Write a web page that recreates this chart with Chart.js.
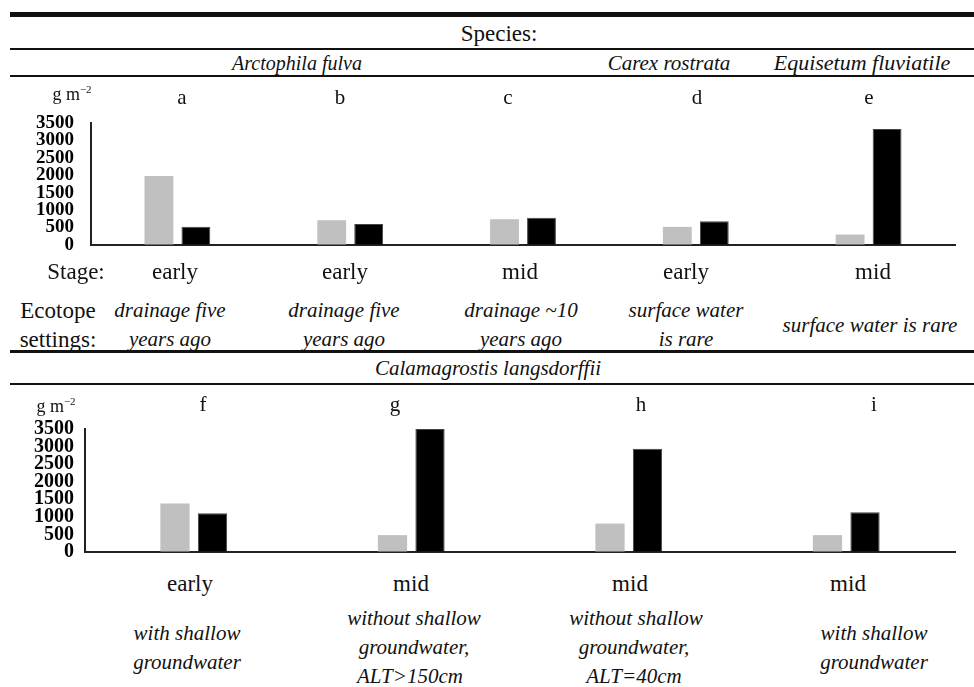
<!DOCTYPE html>
<html>
<head>
<meta charset="utf-8">
<script src="https://cdn.jsdelivr.net/npm/chart.js@4.4.1/dist/chart.umd.min.js"></script>
<style>
  html, body { margin: 0; padding: 0; background: #fff; }
  #page { position: relative; width: 974px; height: 687px; overflow: hidden; font-family: "Liberation Serif", "Times New Roman", serif; color: #111; }
  .t { position: absolute; transform: translate(-50%, -50%); white-space: nowrap; line-height: 1; }
  .i { font-style: italic; }
  .rule { position: absolute; left: 10px; right: 0; background: #111; }
  .box { position: absolute; }
</style>
</head>
<body>
<div id="page">
  <div class="rule" style="top:12px;height:5px"></div>
  <div class="rule" style="top:48px;height:2px"></div>
  <div class="rule" style="top:75px;height:2px"></div>
  <div class="rule" style="top:350px;height:3px"></div>
  <div class="rule" style="top:383px;height:2px"></div>

  <div class="box" style="left:0;top:100px;width:974px;height:160px"><canvas id="topChart" width="974" height="160"></canvas></div>
  <div class="box" style="left:0;top:415px;width:974px;height:150px"><canvas id="bottomChart" width="974" height="150"></canvas></div>
</div>

<script>
/* Data */
const yTicks = [0, 500, 1000, 1500, 2000, 2500, 3000, 3500];

const topLetters = ["a", "b", "c", "d", "e"];
const topGray = [1980, 710, 740, 520, 300];
const topBlack = [520, 600, 780, 680, 3330];

const bottomLetters = ["f", "g", "h", "i"];
const bottomGray = [1380, 480, 810, 480];
const bottomBlack = [1100, 3500, 2940, 1130];

/* Table text: [text, x, y, size, italic] */
const labels = [
  ["Species:", 499, 33, 23, false],
  ["Arctophila fulva", 297, 63, 20, true],
  ["Carex rostrata", 669, 63, 21, true],
  ["Equisetum fluviatile", 862, 63, 22, true],

  ["Stage:", 76, 271, 23, false],
  ["early", 175, 271, 23, false],
  ["early", 345, 271, 23, false],
  ["mid", 520, 271, 23, false],
  ["early", 686, 271, 23, false],
  ["mid", 873, 271, 23, false],

  ["Ecotope", 58, 310, 23, false],
  ["settings:", 58, 339, 23, false],
  ["drainage five", 170, 310, 21, true],
  ["years ago", 170, 339, 21, true],
  ["drainage five", 344, 310, 21, true],
  ["years ago", 344, 339, 21, true],
  ["drainage ~10", 521, 310, 21, true],
  ["years ago", 521, 339, 21, true],
  ["surface water", 686, 310, 21, true],
  ["is rare", 686, 339, 21, true],
  ["surface water is rare", 870, 325, 21, true],

  ["Calamagrostis langsdorffii", 488, 368, 21, true],

  ["early", 190, 583, 23, false],
  ["mid", 411, 583, 23, false],
  ["mid", 630, 583, 23, false],
  ["mid", 848, 583, 23, false],

  ["with shallow", 187, 633, 21, true],
  ["groundwater", 187, 662, 21, true],
  ["without shallow", 414, 618, 21, true],
  ["groundwater,", 414, 647, 21, true],
  ["ALT>150cm", 410, 676, 21, true],
  ["without shallow", 636, 618, 21, true],
  ["groundwater,", 634, 647, 21, true],
  ["ALT=40cm", 634, 676, 21, true],
  ["with shallow", 874, 633, 21, true],
  ["groundwater", 874, 662, 21, true]
];

const topLetterX = [182, 340, 508, 697, 869];
const bottomLetterX = [203, 395, 641, 874];

const page = document.getElementById("page");

function addText(text, x, y, size, italic) {
  const d = document.createElement("div");
  d.className = "t" + (italic ? " i" : "");
  d.style.left = x + "px";
  d.style.top = y + "px";
  d.style.fontSize = size + "px";
  d.textContent = text;
  page.appendChild(d);
  return d;
}

labels.forEach((l) => addText(l[0], l[1], l[2], l[3], l[4]));

topLetters.forEach((l, i) => addText(l, topLetterX[i], 97, 21, false));
bottomLetters.forEach((l, i) => addText(l, bottomLetterX[i], 404, 21, false));

/* unit labels */
function addUnit(x, y) {
  const d = addText("", x, y, 18, false);
  d.innerHTML = "g m<sup style='font-size:11px'>\u22122</sup>";
}
addUnit(72, 93);
addUnit(56, 405);

/* Charts */
function makeChart(id, cats, gray, black, cfg) {
  return new Chart(document.getElementById(id), {
    type: "bar",
    data: {
      labels: cats,
      datasets: [
        {
          data: gray,
          backgroundColor: "#c0c0c0",
          borderWidth: 0,
          categoryPercentage: cfg.catPct,
          barPercentage: 0.78
        },
        {
          data: black,
          backgroundColor: "#000",
          borderColor: "#444",
          borderWidth: 1,
          categoryPercentage: cfg.catPct,
          barPercentage: 0.78
        }
      ]
    },
    options: {
      responsive: false,
      animation: false,
      layout: {
        padding: { left: 0, right: 19, top: cfg.padTop, bottom: 0 }
      },
      plugins: {
        legend: { display: false },
        tooltip: { enabled: false }
      },
      scales: {
        x: {
          grid: { display: false },
          ticks: { display: false },
          border: { display: true, color: "#222", width: 2 },
          afterFit: (s) => { s.height = cfg.xHeight; }
        },
        y: {
          min: 0,
          max: 3500,
          afterBuildTicks: (s) => { s.ticks = yTicks.map((v) => ({ value: v })); },
          grid: {
            display: true,
            drawOnChartArea: false,
            drawTicks: true,
            tickLength: cfg.tickGap,
            tickColor: "rgba(0,0,0,0)"
          },
          border: { display: true, color: "#222", width: 2 },
          ticks: {
            autoSkip: false,
            padding: 0,
            color: "#000",
            font: { family: "Liberation Serif", size: cfg.tickSize, weight: "bold", lineHeight: 1 },
            callback: (v) => String(v)
          },
          afterFit: (s) => { s.width = cfg.yWidth; }
        }
      }
    }
  });
}

makeChart("topChart", topLetters, topGray, topBlack, {
  catPct: 0.428, padTop: 23, xHeight: 15, yWidth: 91, tickGap: 17, tickSize: 19
});

makeChart("bottomChart", bottomLetters, bottomGray, bottomBlack, {
  catPct: 0.345, padTop: 14, xHeight: 13, yWidth: 85, tickGap: 11, tickSize: 20
});
</script>
</body>
</html>
